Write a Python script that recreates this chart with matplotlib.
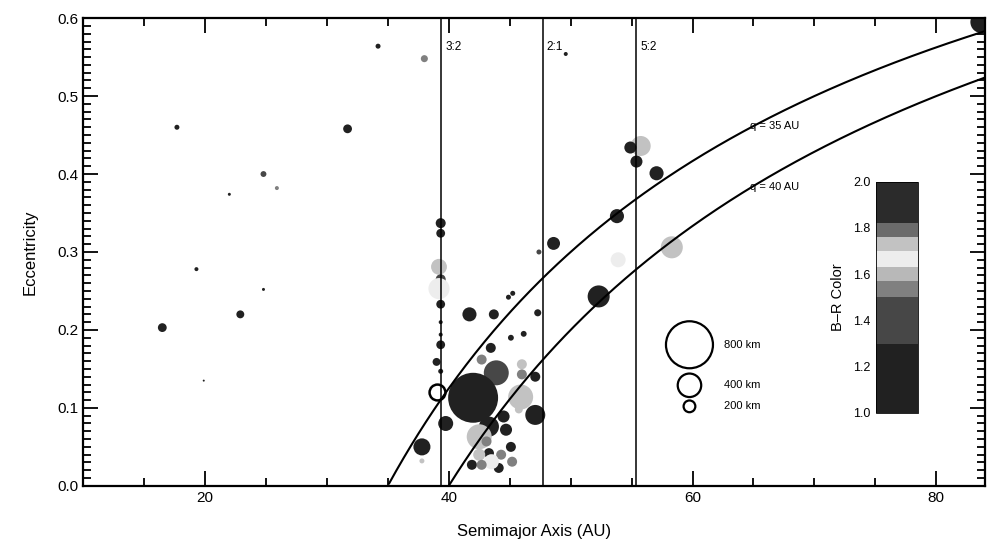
import numpy as np
import matplotlib
matplotlib.use("Agg")
import matplotlib.pyplot as plt
from matplotlib.colors import ListedColormap, BoundaryNorm
from matplotlib.cm import ScalarMappable

plt.rcParams['font.family'] = ['Liberation Sans', 'DejaVu Sans']

# semimajor axis (AU), eccentricity, diameter (km), B-R colour
semimajor = [16.5, 17.7, 19.3, 19.9, 22.0, 22.9, 24.8, 24.8, 25.9, 31.7, 34.2, 38.0, 49.6,
             39.34, 39.34, 39.2, 39.34, 39.34, 39.34, 39.34, 39.34, 39.0, 39.34, 39.2,
             39.75, 37.8, 37.8,
             41.7, 43.7, 44.9, 45.25, 45.1, 46.15, 47.4, 47.3, 48.6, 43.45, 42.7, 43.9,
             42.0, 46.0, 46.0, 47.1, 45.9, 47.1, 43.3, 44.5, 44.7, 42.5, 43.1, 45.1,
             43.3, 44.3, 42.5, 41.9, 44.1, 43.5, 42.7, 45.2, 45.75,
             55.75, 54.9, 55.4, 57.05, 53.8, 58.3, 52.3, 83.7, 53.9]
eccentricity = [0.203, 0.460, 0.278, 0.135, 0.374, 0.220, 0.252, 0.400, 0.382, 0.458, 0.564, 0.548, 0.554,
                0.337, 0.324, 0.281, 0.265, 0.233, 0.210, 0.194, 0.181, 0.159, 0.147, 0.253,
                0.080, 0.050, 0.032,
                0.220, 0.220, 0.242, 0.247, 0.190, 0.195, 0.300, 0.222, 0.311, 0.177, 0.162, 0.145,
                0.113, 0.156, 0.143, 0.140, 0.114, 0.091, 0.076, 0.089, 0.072, 0.063, 0.057, 0.050,
                0.042, 0.040, 0.040, 0.027, 0.023, 0.031, 0.027, 0.031, 0.098,
                0.436, 0.434, 0.416, 0.401, 0.346, 0.306, 0.243, 0.595, 0.290]
diameter = [150, 85, 68, 34, 51, 135, 51, 100, 68, 150, 85, 120, 68,
            170, 150, 270, 170, 150, 68, 68, 150, 135, 85, 360,
            255, 290, 85,
            240, 170, 85, 85, 100, 100, 85, 120, 220, 170, 170, 425,
            850, 170, 170, 170, 425, 340, 340, 205, 205, 425, 170, 170,
            170, 170, 205, 170, 170, 255, 170, 170, 135,
            340, 205, 205, 240, 240, 375, 375, 375, 255]
br_color = [1.15, 1.15, 1.15, 1.15, 1.15, 1.15, 1.15, 1.45, 1.53, 1.15, 1.15, 1.53, 1.15,
            1.15, 1.15, 1.73, 1.4, 1.15, 1.15, 1.15, 1.15, 1.15, 1.15, 1.67,
            1.15, 1.15, 1.73,
            1.15, 1.15, 1.15, 1.15, 1.15, 1.15, 1.4, 1.15, 1.15, 1.15, 1.53, 1.45,
            1.15, 1.73, 1.55, 1.15, 1.73, 1.15, 1.15, 1.15, 1.15, 1.73, 1.53, 1.15,
            1.15, 1.55, 1.73, 1.15, 1.15, 1.67, 1.53, 1.55, 1.73,
            1.73, 1.15, 1.2, 1.15, 1.15, 1.73, 1.15, 1.15, 1.67]

# the one object drawn as an open ring
ring_a, ring_e, ring_d = [39.0], [0.120], [270]

resonances = [39.4, 47.7, 55.4]
resonance_labels = ['3:2', '2:1', '5:2']
perihelia = [35, 40]

legend_sizes = [800, 400, 200]

# B-R colour scale (grey bands)
bounds = [1.0, 1.3, 1.5, 1.57, 1.63, 1.70, 1.76, 1.82, 2.0]
greys = [0.13, 0.28, 0.50, 0.72, 0.93, 0.76, 0.42, 0.17]

cmap = ListedColormap([(g, g, g) for g in greys])
norm = BoundaryNorm(bounds, cmap.N)

PT_PER_KM = 0.0423


def area(d):
    return (np.asarray(d) * PT_PER_KM) ** 2


fig = plt.figure(figsize=(9.89, 5.49), dpi=100)
ax = fig.add_axes([0.084, 0.115, 0.912, 0.852])

ax.scatter(semimajor, eccentricity, s=area(diameter), c=br_color, cmap=cmap, norm=norm,
           edgecolors='none', zorder=2)
ax.scatter(ring_a, ring_e, s=area(ring_d), facecolors='white', edgecolors='black',
           linewidths=1.8, zorder=2)

for x, lab in zip(resonances, resonance_labels):
    ax.axvline(x, color='black', lw=1.1, zorder=3)
    ax.text(x + 0.3, 0.563, lab, fontsize=8.5, va='center', ha='left')

a = np.linspace(30, 90, 400)
for q in perihelia:
    e = 1 - q / a
    ax.plot(a[e >= 0], e[e >= 0], color='black', lw=1.5, zorder=3)
ax.text(64.75, 0.461, 'q = 35 AU', fontsize=8, va='center')
ax.text(64.75, 0.384, 'q = 40 AU', fontsize=8, va='center')

# size legend
for d, y in zip(legend_sizes, [0.181, 0.129, 0.102]):
    ax.scatter([59.75], [y], s=area(d), facecolors='none', edgecolors='black', linewidths=1.6,
               zorder=3)
    ax.text(62.6, y, f'{d} km', fontsize=8, va='center')

ax.set_xlim(10, 84)
ax.set_ylim(0, 0.6)
ax.set_xticks([20, 40, 60, 80])
ax.set_xticks(np.arange(10, 85, 5), minor=True)
ax.set_yticks(np.arange(0, 0.61, 0.1))
ax.set_yticks(np.arange(0, 0.6, 0.01), minor=True)
ax.set_yticklabels([f'{v:.1f}' for v in np.arange(0, 0.61, 0.1)])
ax.tick_params(which='both', direction='in', top=True, right=True, labelsize=11, width=1.3)
ax.tick_params(which='major', length=11)
ax.tick_params(which='minor', length=6)
for sp in ax.spines.values():
    sp.set_linewidth(1.6)

ax.set_xlabel('Semimajor Axis (AU)', fontsize=12, labelpad=14)
ax.set_ylabel('Eccentricity', fontsize=12, labelpad=14)

# colour bar
cax = fig.add_axes([0.886, 0.248, 0.0425, 0.421])
cb = fig.colorbar(ScalarMappable(norm=norm, cmap=cmap), cax=cax, spacing='proportional',
                  ticks=[1.0, 1.2, 1.4, 1.6, 1.8, 2.0])
cb.outline.set_linewidth(0.6)
cax.minorticks_off()
cax.yaxis.set_ticks_position('left')
cax.yaxis.set_label_position('left')
cax.tick_params(which='both', length=0, labelsize=9, pad=4)
cb.set_label('B\u2013R Color', fontsize=10.5, labelpad=6)

fig.savefig('out.png', dpi=100)
